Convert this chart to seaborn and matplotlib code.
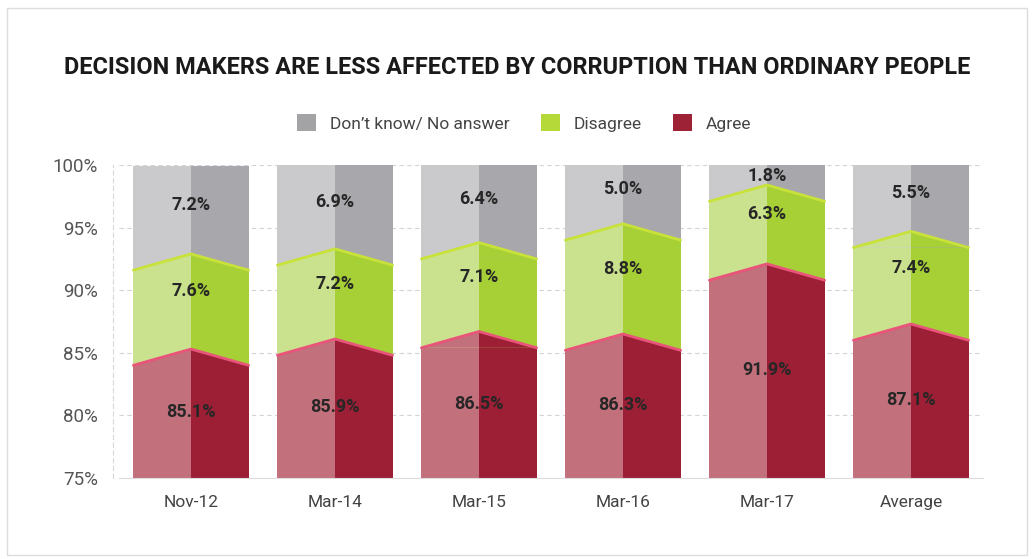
import numpy as np
import pandas as pd
import seaborn as sns
import matplotlib.pyplot as plt
from matplotlib.patches import Patch, Rectangle

# ---------------- data ----------------
periods = ["Nov-12", "Mar-14", "Mar-15", "Mar-16", "Mar-17", "Average"]
agree = [85.1, 85.9, 86.5, 86.3, 91.9, 87.1]
disagree = [7.6, 7.2, 7.1, 8.8, 6.3, 7.4]
dont_know = [7.2, 6.9, 6.4, 5.0, 1.8, 5.5]
series_names = ["Don\u2019t know/ No answer", "Disagree", "Agree"]
y_ticks = [75, 80, 85, 90, 95, 100]
title = "DECISION MAKERS ARE LESS AFFECTED BY CORRUPTION THAN ORDINARY PEOPLE"

# ---------------- style ----------------
sns.set_theme(style="white")
plt.rcParams['font.family'] = ['Roboto', 'DejaVu Sans']

col = {
    "gray": ("#cacacd", "#a8a8ac"),
    "green": ("#cae28e", "#a6d036"),
    "red": ("#c2707b", "#9c1f35"),
}
legend_cols = ["#a3a3a5", "#b6d93a", "#9e2236"]
line_cols = {"b1": "#e9547a", "b2": "#c9e23a"}
sides = ["L", "R"]

fig = plt.figure(figsize=(10.34, 5.59), dpi=100)
ax = fig.add_axes([119 / 1034, 1 - 478 / 559, (983 - 119) / 1034, (478 - 165) / 559])

cum1 = np.array(agree)
cum2 = cum1 + np.array(disagree)
cum3 = cum2 + np.array(dont_know)


def layer(vals, key):
    d = pd.DataFrame([(p, s, v) for p, v in zip(periods, vals) for s in sides],
                     columns=["period", "side", "value"])
    sns.barplot(data=d, x="period", y="value", hue="side", order=periods,
                hue_order=sides, palette={"L": col[key][0], "R": col[key][1]},
                dodge=True, width=0.8, saturation=1, legend=False,
                errorbar=None, linewidth=0, ax=ax, zorder=1)
    return ax.containers[-2], ax.containers[-1]


layer(cum3, "gray")
layer(cum2, "green")
contL, contR = layer(cum1, "red")

ax.set_ylim(75, 100)
ax.set_xlim(-0.5, len(periods) - 0.5)

# prism-like chevron tops at each boundary
lo_off, hi_off = 1.1, 0.2
for i in range(len(periods)):
    L, R = contL[i], contR[i]
    x0 = L.get_x()
    xc = x0 + L.get_width()
    x1 = R.get_x() + R.get_width()
    for c, lower, upper, lc in [(cum2[i], "green", "gray", line_cols["b2"]),
                                (cum1[i], "red", "green", line_cols["b1"])]:
        lo, hi = c - lo_off, c + hi_off
        ax.fill([x0, xc, xc, x0], [lo, lo, hi, hi], color=col[upper][0], lw=0, zorder=2)
        ax.fill([xc, x1, x1, xc], [lo, lo, hi, hi], color=col[upper][1], lw=0, zorder=2)
        ax.fill([x0, xc, xc], [lo, hi, lo], color=col[lower][0], lw=0, zorder=2)
        ax.fill([xc, x1, xc], [lo, lo, hi], color=col[lower][1], lw=0, zorder=2)
        ax.plot([x0, xc, x1], [lo, hi, lo], color=lc, lw=2, zorder=3,
                solid_joinstyle="miter")

    # value labels
    lab_kw = dict(ha="center", va="center", fontsize=13, fontweight="bold",
                  color="#262626", zorder=5)
    xm = (x0 + x1) / 2
    ax.text(xm, min(cum2[i] + dont_know[i] / 2 + 0.5, 99.1), f"{dont_know[i]:.1f}%", **lab_kw)
    ax.text(xm, cum1[i] + disagree[i] / 2 + 1.0, f"{disagree[i]:.1f}%", **lab_kw)
    ax.text(xm, (75 + cum1[i]) / 2 + 0.2, f"{agree[i]:.1f}%", **lab_kw)

# axes styling
ax.set_yticks(y_ticks)
ax.set_yticklabels([f"{t}%" for t in y_ticks])
ax.yaxis.grid(True, linestyle=(0, (4, 3)), color="#d4d4d4", lw=0.8)
ax.set_axisbelow(True)
ax.set_xlabel("")
ax.set_ylabel("")
for s in ["top", "right"]:
    ax.spines[s].set_visible(False)
ax.spines["left"].set_linestyle((0, (4, 3)))
ax.spines["left"].set_color("#d8d8d8")
ax.spines["left"].set_linewidth(0.8)
ax.spines["left"].set_position(("outward", 4))
ax.spines["bottom"].set_color("#dddddd")
ax.spines["bottom"].set_linewidth(0.8)
ax.tick_params(axis="y", length=0, pad=11, labelsize=13.5, labelcolor="#555555")
ax.tick_params(axis="x", length=0, pad=12, labelsize=12.5, labelcolor="#444444")

# title, sized to span the same width as in the reference
t = fig.text(0.5, 1 - 67 / 559, title, ha="center", va="center", fontsize=16,
             fontweight="bold", color="#1a1a1a")
r = fig.canvas.get_renderer()
w = t.get_window_extent(renderer=r).width
t.set_fontsize(16 * 905 / w)

# legend
handles = [Patch(facecolor=c, edgecolor="none") for c in legend_cols]
fig.legend(handles, series_names, loc="center", bbox_to_anchor=(0.507, 1 - 123 / 559),
           ncol=3, frameon=False, fontsize=12.5, handlelength=1.1, handleheight=1.1,
           columnspacing=1.8, handletextpad=0.8, labelcolor="#444444")

# outer frame
fig.add_artist(Rectangle((0.007, 0.008), 0.986, 0.978, transform=fig.transFigure,
                         fill=False, ec="#dcdcdc", lw=1))

fig.savefig("out.png", dpi=100)
